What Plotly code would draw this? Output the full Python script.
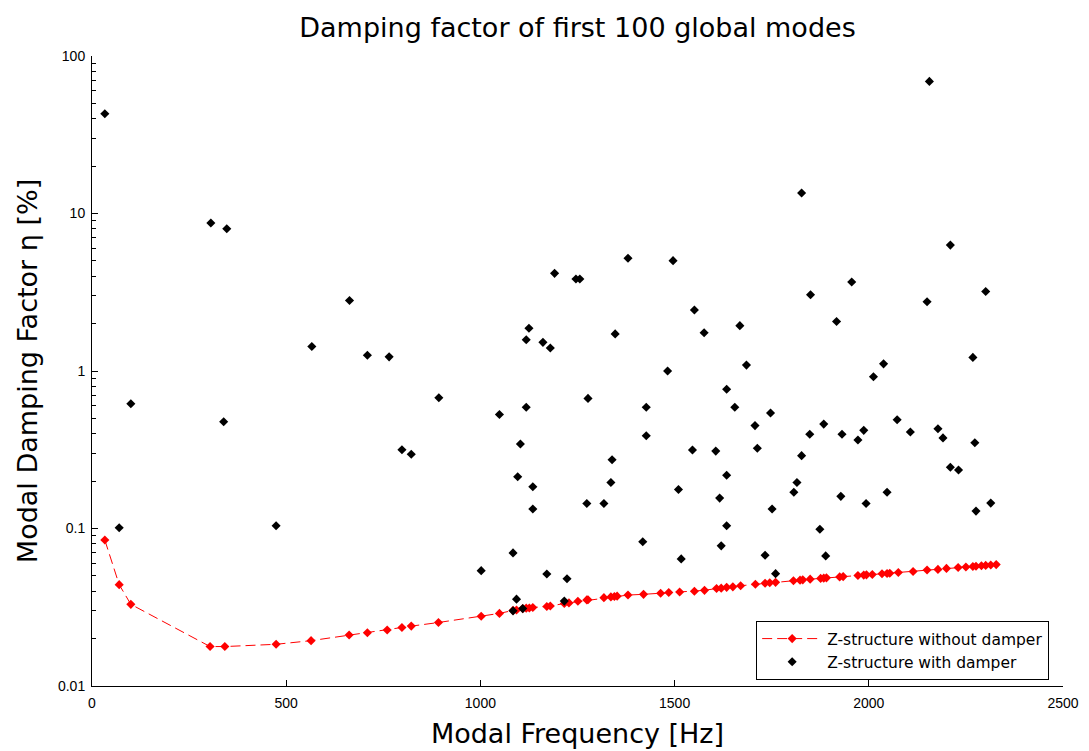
import plotly.graph_objects as go

# Z-structure with damper (black points)
freq_damper = [33, 70, 100, 306, 347, 339, 474, 566, 663, 709, 765, 798, 822, 893,
               1002, 1049, 1084, 1084, 1093, 1096, 1103, 1109, 1118, 1118, 1125, 1135,
               1135, 1161, 1171, 1180, 1191, 1216, 1223, 1246, 1256, 1274, 1277, 1318,
               1336, 1339, 1347, 1380, 1418, 1427, 1427, 1482, 1496, 1510, 1517, 1546,
               1551, 1576, 1606, 1616, 1620, 1634, 1634, 1634, 1655, 1668, 1685, 1707,
               1713, 1733, 1747, 1751, 1760, 1807, 1815, 1827, 1827, 1848, 1850, 1874,
               1884, 1889, 1917, 1928, 1931, 1956, 1972, 1987, 1993, 2012, 2038, 2047,
               2073, 2107, 2150, 2156, 2178, 2191, 2210, 2210, 2231, 2268, 2273, 2276,
               2301, 2314]
eta_damper = [43, 0.101, 0.62, 8.7, 8.0, 0.476, 0.104, 1.43, 2.8, 1.26, 1.23, 0.316, 0.296, 0.677,
              0.054, 0.53, 0.070, 0.030, 0.0356, 0.213, 0.344, 0.031, 1.58, 0.588, 1.87, 0.184,
              0.133, 1.52, 0.0514, 1.40, 4.17, 0.0346, 0.048, 3.84, 3.84, 0.144, 0.67, 0.144,
              0.196, 0.273, 1.72, 5.2, 0.0823, 0.588, 0.388, 1.0, 5.02, 0.177, 0.0641, 0.315,
              2.44, 1.75, 0.31, 0.156, 0.0776, 0.765, 0.218, 0.104, 0.588, 1.94, 1.09, 0.45,
              0.323, 0.0676, 0.541, 0.133, 0.0517, 0.17, 0.196, 13.5, 0.29, 0.397, 3.05, 0.099,
              0.46, 0.067, 2.06, 0.16, 0.397, 3.67, 0.365, 0.42, 0.144, 0.92, 1.11, 0.17,
              0.49, 0.41, 2.75, 69, 0.43, 0.376, 6.3, 0.245, 0.235, 1.22, 0.35, 0.129,
              3.2, 0.145]

# Z-structure without damper (red dashed line)
freq_nodamper = [33, 70, 100, 304, 342, 474, 564, 662, 709, 760, 798, 822, 892, 1002, 1049,
                 1084, 1093, 1109, 1118, 1126, 1135, 1171, 1180, 1216, 1228, 1251, 1274, 1277,
                 1318, 1336, 1345, 1352, 1380, 1420, 1464, 1485, 1513, 1551, 1577, 1608, 1620,
                 1634, 1650, 1670, 1708, 1733, 1745, 1760, 1806, 1823, 1830, 1849, 1876, 1884,
                 1891, 1925, 1934, 1972, 1987, 1994, 2009, 2034, 2047, 2054, 2076, 2114, 2150,
                 2178, 2200, 2230, 2250, 2268, 2276, 2290, 2301, 2314, 2328]
eta_nodamper = [0.0845, 0.044, 0.033, 0.0178, 0.0178, 0.0184, 0.0194, 0.0211, 0.0218, 0.0227,
                0.0235, 0.024, 0.0253, 0.0277, 0.0289, 0.0302, 0.0304, 0.031, 0.0312, 0.0313,
                0.0315, 0.032, 0.0322, 0.0334, 0.0337, 0.0345, 0.0352, 0.0353, 0.0364, 0.0368,
                0.037, 0.0372, 0.0378, 0.0382, 0.0388, 0.0392, 0.0395, 0.040, 0.0405, 0.0416,
                0.0418, 0.0423, 0.0426, 0.0433, 0.0443, 0.0449, 0.0452, 0.0455, 0.0466, 0.047,
                0.0472, 0.0477, 0.0482, 0.0484, 0.0486, 0.0493, 0.0495, 0.0503, 0.0506, 0.0508,
                0.051, 0.0516, 0.0518, 0.052, 0.0525, 0.0533, 0.0545, 0.055, 0.0558, 0.0565,
                0.057, 0.0574, 0.0576, 0.058, 0.0583, 0.0586, 0.059]

x_ticks = [0, 500, 1000, 1500, 2000, 2500]
y_ticks = [0.01, 0.1, 1, 10, 100]
y_tick_labels = ["0.01", "0.1", "1", "10", "100"]

fig = go.Figure()
fig.add_trace(go.Scatter(
    x=freq_nodamper, y=eta_nodamper, mode="lines+markers",
    name="Z-structure without damper",
    line=dict(color="#ff0000", width=1, dash="10px,5px"),
    marker=dict(symbol="diamond", size=7, color="#ff0000"),
))
fig.add_trace(go.Scatter(
    x=freq_damper, y=eta_damper, mode="markers",
    name="Z-structure with damper",
    marker=dict(symbol="diamond", size=7, color="#000000"),
))

tick_font = dict(family="Liberation Sans, Arial, sans-serif", size=14, color="black")
big_font = dict(family="DejaVu Sans, sans-serif", size=27, color="black")
fig.update_layout(
    width=1089, height=751,
    paper_bgcolor="white", plot_bgcolor="white",
    margin=dict(l=84, r=34, t=48, b=73),
    title=dict(text="Damping factor of first 100 global modes",
               x=0.5, xref="paper", xanchor="center", y=0.9734, yanchor="middle",
               font=dict(family="DejaVu Sans, sans-serif", size=27, color="black")),
    showlegend=True,
    legend=dict(x=0.684, y=0.0095, xanchor="left", yanchor="bottom",
                bgcolor="white", bordercolor="black", borderwidth=1,
                font=dict(family="DejaVu Sans, sans-serif", size=15.5, color="black"),
                itemwidth=60, tracegroupgap=0),
    font=tick_font,
)
fig.update_xaxes(
    range=[0, 2500], tickvals=x_ticks, ticktext=[str(v) for v in x_ticks],
    showgrid=False, zeroline=False, showline=True, linecolor="black", linewidth=1,
    ticks="inside", ticklen=6, tickcolor="black", mirror=False, automargin=False,
    ticklabelstandoff=4,
    title=dict(text="Modal Frequency [Hz]", standoff=14, font=big_font),
    tickfont=tick_font,
)
fig.update_yaxes(
    type="log", range=[-2, 2], tickvals=y_ticks, ticktext=y_tick_labels,
    showgrid=False, zeroline=False, showline=True, linecolor="black", linewidth=1,
    ticks="inside", ticklen=6, tickcolor="black", mirror=False, automargin=False,
    ticklabelstandoff=3,
    minor=dict(ticks="inside", ticklen=4, tickcolor="black", dtick="D1", showgrid=False),
    title=dict(text="Modal Damping Factor η [%]", standoff=12, font=big_font),
    tickfont=tick_font,
)

fig.write_html("out.html")
